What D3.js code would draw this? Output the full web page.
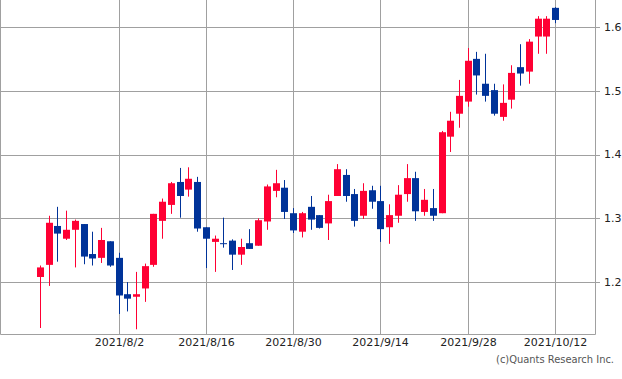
<!DOCTYPE html>
<html>
<head>
<meta charset="utf-8">
<script src="https://cdn.jsdelivr.net/npm/d3@7"></script>
<style>
  body { margin: 0; background: #fff; }
  text { font-family: "DejaVu Sans", sans-serif; }
</style>
</head>
<body>
<svg width="622" height="379"></svg>
<script>
// daily candles, index 0..59
var opens  = [1.208,1.227,1.288,1.268,1.282,1.291,1.244,1.238,1.264,1.238,
              1.181,1.177,1.190,1.227,1.296,1.321,1.357,1.345,1.357,1.286,
              1.263,1.261,1.265,1.243,1.261,1.257,1.295,1.343,1.348,1.308,
              1.279,1.318,1.305,1.292,1.335,1.368,1.338,1.304,1.344,1.327,
              1.286,1.304,1.338,1.363,1.310,1.316,1.308,1.428,1.464,1.483,
              1.550,1.511,1.501,1.459,1.486,1.537,1.530,1.585,1.585,1.630];
var highs  = [1.226,1.304,1.318,1.312,1.298,1.291,1.279,1.285,1.264,1.246,
              1.200,1.216,1.229,1.307,1.331,1.357,1.379,1.380,1.365,1.286,
              1.273,1.301,1.267,1.268,1.283,1.300,1.353,1.376,1.360,1.316,
              1.310,1.335,1.305,1.337,1.385,1.377,1.346,1.355,1.351,1.351,
              1.322,1.352,1.385,1.373,1.346,1.346,1.437,1.467,1.517,1.567,
              1.561,1.558,1.511,1.510,1.540,1.573,1.581,1.617,1.617,1.631];
var lows   = [1.128,1.194,1.232,1.266,1.223,1.228,1.226,1.230,1.224,1.150,
              1.154,1.126,1.169,1.224,1.268,1.307,1.301,1.334,1.279,1.222,
              1.216,1.254,1.219,1.227,1.252,1.257,1.282,1.333,1.299,1.277,
              1.270,1.282,1.284,1.266,1.335,1.326,1.287,1.299,1.315,1.263,
              1.260,1.293,1.326,1.296,1.304,1.296,1.308,1.404,1.442,1.475,
              1.494,1.483,1.461,1.453,1.472,1.508,1.511,1.558,1.558,1.606];
var closes = [1.223,1.293,1.276,1.282,1.296,1.240,1.237,1.266,1.226,1.179,
              1.174,1.181,1.225,1.307,1.326,1.355,1.335,1.362,1.284,1.268,
              1.268,1.260,1.243,1.255,1.252,1.297,1.350,1.355,1.310,1.281,
              1.308,1.298,1.285,1.327,1.377,1.335,1.296,1.343,1.326,1.283,
              1.305,1.337,1.363,1.311,1.329,1.304,1.435,1.453,1.492,1.547,
              1.524,1.492,1.464,1.481,1.528,1.527,1.577,1.613,1.613,1.611];

var dateTickIdx = [9, 19, 29, 39, 49, 59];
var dateTickLabels = ["2021/8/2", "2021/8/16", "2021/8/30", "2021/9/14", "2021/9/28", "2021/10/12"];
var priceTicks = [1.2, 1.3, 1.4, 1.5, 1.6];

var svg = d3.select("svg"),
    plotW = 595,
    plotH = 334;

var candles = opens.map(function(o, i) {
    return {i: i, open: o, high: highs[i], low: lows[i], close: closes[i]};
});

var x = d3.scalePoint()
    .domain(d3.range(candles.length))
    .range([40, 555]);

var y = d3.scaleLinear()
    .domain([1.1186, 1.6423])
    .range([plotH, 0]);

var gridColor = "#a0a0a0";

// horizontal grid + little ticks out to the right
svg.append("g")
    .selectAll("line")
    .data(priceTicks)
    .enter().append("line")
    .attr("x1", 0)
    .attr("x2", plotW + 5)
    .attr("y1", function(d) { return Math.round(y(d)) + 0.5; })
    .attr("y2", function(d) { return Math.round(y(d)) + 0.5; })
    .attr("stroke", gridColor);

// vertical grid on the date ticks
svg.append("g")
    .selectAll("line")
    .data(dateTickIdx)
    .enter().append("line")
    .attr("x1", function(d) { return Math.round(x(d)) + 0.5; })
    .attr("x2", function(d) { return Math.round(x(d)) + 0.5; })
    .attr("y1", 0)
    .attr("y2", plotH)
    .attr("stroke", gridColor);

// frame (left, bottom, right)
svg.append("path")
    .attr("d", "M0.5,0V" + (plotH + 0.5) + "H" + (plotW + 0.5) + "V0")
    .attr("fill", "none")
    .attr("stroke", gridColor);

// candles
var up = "#ff0033", down = "#003399";
var g = svg.append("g").selectAll("g")
    .data(candles)
    .enter().append("g")
    .attr("fill", function(d) { return d.close >= d.open ? up : down; });

g.append("rect") // wick
    .attr("x", function(d) { return Math.round(x(d.i)); })
    .attr("width", 1)
    .attr("y", function(d) { return y(d.high); })
    .attr("height", function(d) { return y(d.low) - y(d.high); });

g.append("rect") // body
    .attr("x", function(d) { return Math.round(x(d.i)) - 3; })
    .attr("width", 7)
    .attr("y", function(d) { return y(Math.max(d.open, d.close)); })
    .attr("height", function(d) {
        return Math.max(1, Math.abs(y(d.open) - y(d.close)));
    });

// price labels on the right
svg.append("g")
    .selectAll("text")
    .data(priceTicks)
    .enter().append("text")
    .attr("x", 604)
    .attr("y", function(d) { return y(d); })
    .attr("dy", "0.35em")
    .attr("font-size", 11)
    .attr("fill", "#222")
    .text(function(d) { return d3.format(".1f")(d); });

// date labels
svg.append("g")
    .selectAll("text")
    .data(dateTickIdx)
    .enter().append("text")
    .attr("x", function(d) { return Math.round(x(d)) + 0.5; })
    .attr("y", 346)
    .attr("text-anchor", "middle")
    .attr("font-size", 11)
    .attr("fill", "#222")
    .text(function(d, i) { return dateTickLabels[i]; });

svg.append("text")
    .attr("x", 614)
    .attr("y", 363)
    .attr("text-anchor", "end")
    .attr("font-size", 11)
    .style("font-family", "'DejaVu Sans Condensed', 'DejaVu Sans', sans-serif")
    .style("font-stretch", "condensed")
    .attr("fill", "#555")
    .text("(c)Quants Research Inc.");
</script>
</body>
</html>
